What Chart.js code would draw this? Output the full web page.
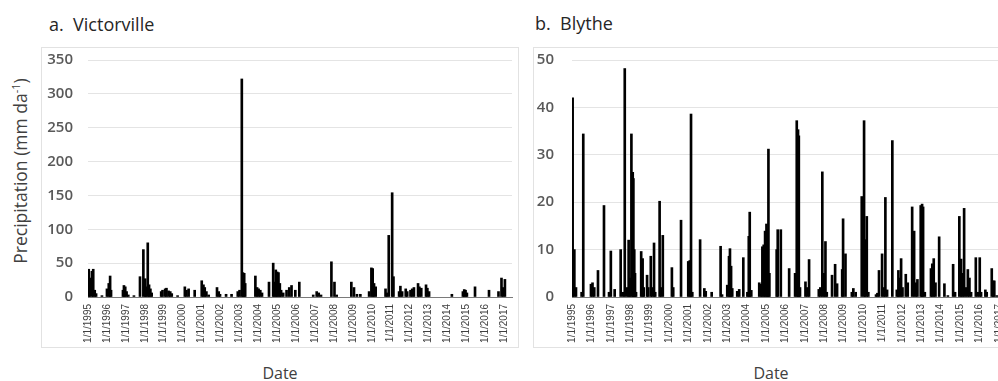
<!DOCTYPE html>
<html>
<head>
<meta charset="utf-8">
<script src="https://cdn.jsdelivr.net/npm/chart.js@4.4.1/dist/chart.umd.min.js"></script>
<style>
  html, body { margin: 0; padding: 0; background: #ffffff; }
  body { width: 998px; height: 381px; overflow: hidden; position: relative; font-family: "Open Sans", "Liberation Sans", sans-serif; }
  .abs { position: absolute; white-space: nowrap; }
  .panel-title { font-size: 18px; color: #262626; line-height: 20px; }
  .box { position: absolute; box-sizing: border-box; border: 1px solid #e2e2e2; }
  .date { font-size: 16px; color: #404040; line-height: 16px; transform: translateX(-50%); }
  .ytitle { font-size: 17.5px; color: #404040; line-height: 18px; transform: translate(-50%, -50%) rotate(-90deg); }
  .ytitle sup { font-size: 11px; line-height: 0; vertical-align: 7px; }
  canvas { position: absolute; }
</style>
</head>
<body>
<div class="abs panel-title" style="left:49px; top:14px;">a.&nbsp; Victorville</div>
<div class="abs panel-title" style="left:535px; top:13px;">b.&nbsp; Blythe</div>
<div class="abs ytitle" style="left:20px; top:171px;">Precipitation (mm da<sup>-1</sup>)</div>
<div class="box" style="left:41px; top:47px; width:478px; height:301px;"></div>
<div class="box" style="left:533px; top:47px; width:480px; height:301px;"></div>
<canvas id="chartA" width="478" height="301" style="left:41px; top:47px;"></canvas>
<canvas id="chartB" width="480" height="301" style="left:533px; top:47px;"></canvas>
<div class="abs date" style="left:280px; top:365px;">Date</div>
<div class="abs date" style="left:771px; top:365px;">Date</div>
<script>
// ---------------- DATA ----------------
const yearTickLabels = ['1/1/1995','1/1/1996','1/1/1997','1/1/1998','1/1/1999','1/1/2000','1/1/2001','1/1/2002',
  '1/1/2003','1/1/2004','1/1/2005','1/1/2006','1/1/2007','1/1/2008','1/1/2009','1/1/2010','1/1/2011','1/1/2012',
  '1/1/2013','1/1/2014','1/1/2015','1/1/2016','1/1/2017'];
const dateRange = ['1995-01-01', '2017-06-01'];

const victorvilleDates = [
  '1995-01-15','1995-02-03','1995-03-17','1995-04-12','1995-05-11','1995-06-06','1995-09-27',
  '1996-01-02','1996-02-06','1996-03-03','1996-03-21','1996-11-06','1996-11-25','1996-12-20',
  '1997-01-15','1997-02-17','1997-06-06','1997-10-01','1997-12-05',
  '1998-01-08','1998-01-26','1998-02-28','1998-03-25','1998-04-20','1998-05-15','1998-11-14','1998-12-10',
  '1999-01-30','1999-02-24','1999-04-05','1999-05-08','1999-06-06','1999-09-27',
  '2000-02-14','2000-03-17','2000-04-27','2000-08-22',
  '2001-01-05','2001-02-07','2001-03-04','2001-04-05','2001-05-19','2001-10-27','2001-11-29','2001-12-24',
  '2002-04-20','2002-08-04','2002-12-02',
  '2003-01-05','2003-02-18','2003-03-11','2003-04-05','2003-04-24','2003-11-07','2003-12-10',
  '2004-01-08','2004-02-10','2004-03-14','2004-07-27','2004-10-16','2004-11-10','2004-12-05',
  '2005-01-01','2005-01-26','2005-02-21','2005-03-18','2005-04-27','2005-07-01','2005-08-22','2005-10-05','2005-12-17',
  '2006-03-04','2006-11-28',
  '2007-02-03','2007-03-14','2007-04-27','2007-11-14',
  '2008-01-12','2008-02-24','2008-12-03',
  '2009-01-23','2009-03-21','2009-05-26','2009-11-11','2009-12-25',
  '2010-01-19','2010-02-14','2010-03-18','2010-09-24','2010-10-23','2010-11-25',
  '2011-01-30','2011-02-24','2011-06-13','2011-07-08','2011-08-11','2011-10-19','2011-11-17',
  '2012-01-19','2012-02-21','2012-03-25','2012-06-13','2012-07-08','2012-08-14','2012-11-14','2012-12-10',
  '2013-01-12','2014-03-28','2014-10-27','2014-11-22','2014-12-17',
  '2015-01-12','2015-06-18','2016-03-14','2016-09-13','2016-11-10','2016-12-13','2017-01-15'
];
const victorvilleValues = [
  41,28,38,41,10,5,2,
  12,20,31,10,10,17,15,
  8,3,2,30,70,
  27,15,80,18,12,6,8,10,
  12,13,9,8,5,2,
  15,10,12,10,
  24,18,14,8,3,14,8,4,
  4,4,8,
  10,322,36,35,20,31,14,
  12,10,6,22,50,22,40,
  37,36,20,10,6,10,14,17,10,
  22,3,
  8,6,3,52,
  22,3,22,
  14,4,4,8,43,
  42,20,15,12,6,91,
  154,30,8,16,8,12,8,
  10,12,14,20,15,13,18,13,
  8,4,8,11,10,
  6,15,10,8,28,14,26
];

const blytheDates = [
  '1995-01-03','1995-01-13','1995-02-14','1995-03-17','1995-07-01','1995-08-01','1995-12-24',
  '1996-01-22','1996-02-24','1996-05-04','1996-08-25','1996-11-28',
  '1997-01-01','1997-03-14','1997-07-05','1997-08-22','1997-09-20','1997-11-03','1997-12-02','1997-12-20',
  '1998-01-23','1998-02-17','1998-03-01','1998-03-18','1998-04-01','1998-04-20','1998-07-26','1998-08-22',
  '1998-09-12','1998-11-14','1998-12-06',
  '1999-01-23','1999-02-21','1999-03-25','1999-04-16','1999-07-08','1999-08-04','1999-09-06',
  '2000-02-24','2000-03-20','2000-08-14','2000-12-28',
  '2001-01-26','2001-02-18','2001-03-14','2001-08-08','2001-10-27','2001-11-22',
  '2002-03-14','2002-08-29','2002-09-25',
  '2003-01-01','2003-02-03','2003-02-21','2003-03-14','2003-04-05','2003-07-08','2003-08-14','2003-10-30',
  '2004-01-15','2004-02-10','2004-02-28','2004-03-28','2004-08-25','2004-09-27','2004-10-23','2004-11-17','2004-12-13',
  '2005-01-08','2005-01-26','2005-02-14','2005-03-04','2005-07-19','2005-08-08','2005-10-05',
  '2006-03-11','2006-07-01','2006-08-01','2006-08-25','2006-09-09','2006-10-01',
  '2007-01-12','2007-02-17','2007-03-21','2007-09-20','2007-10-19','2007-11-25','2007-12-24',
  '2008-01-23','2008-02-17','2008-05-26','2008-07-23','2008-08-29','2008-12-03','2008-12-20',
  '2009-02-03','2009-06-03','2009-07-01','2009-08-14','2009-12-06',
  '2010-01-19','2010-02-06','2010-03-11','2010-04-09','2010-09-01','2010-09-27','2010-10-27','2010-12-24',
  '2011-01-26','2011-02-24','2011-03-28','2011-07-05','2011-09-27','2011-10-27','2011-11-14','2011-12-17',
  '2012-01-12','2012-03-14','2012-04-20','2012-07-12','2012-08-18','2012-09-20','2012-10-19','2012-12-20',
  '2013-01-15','2013-02-03','2013-03-07','2013-07-01','2013-07-26','2013-08-22','2013-09-24','2013-12-02',
  '2014-03-11','2014-05-15','2014-08-22','2014-09-27','2014-12-17',
  '2015-01-19','2015-02-14','2015-03-17','2015-04-20','2015-05-26','2015-06-25','2015-07-26','2015-10-23','2015-11-28',
  '2016-01-05','2016-01-30','2016-04-20','2016-05-15','2016-08-18','2016-09-16','2016-10-05','2016-11-20',
  '2017-01-20'
];
const blytheValues = [
  10,42,10,2,1,34.4,2.7,
  3,2,5.6,19.3,1,
  9.7,1.6,10,1,48.2,2,12,4,
  34.4,26.3,25,10,5,1,9.6,8.1,
  2,4.6,2,
  8.6,2,11.4,1,20.2,2,13,
  6.2,2,16.2,7.5,
  7.7,38.6,1,12.1,1.8,1.2,
  1,10.7,0.5,
  2.5,8.6,10.2,6.5,1.8,1.2,1.6,8.3,
  1,12.8,17.9,1.4,3,2.7,10.6,11,13.9,
  15.4,14.2,31.2,5,10,14.2,14.2,
  6,5,37.2,35.3,34,2,
  3.2,2,7.9,1.6,2,26.4,5,
  11.7,1,4.6,6.9,2.8,5.8,16.5,
  9.1,1,1.8,1,21.2,
  37.2,12.1,17,1,0.5,0.8,5.6,9.1,
  2,21,1.5,33,1.5,5.6,4,8.1,
  2,4.8,3,19,13.9,3,3.7,19.3,
  19.6,19,1,6,7,8.1,3,12.7,
  2.8,0.3,6.9,1,17,
  8,5,18.7,2,5.8,4,1,8.3,1,
  8.3,1,1.5,1,6,3.4,3.4,0.3,
  30
];

// ---------------- HELPERS ----------------
function isoToMs(s) { const p = s.split('-').map(Number); return Date.UTC(p[0], p[1] - 1, p[2]); }
function mdyToMs(s) { const p = s.split('/').map(Number); return Date.UTC(p[2], p[0] - 1, p[1]); }
function toPoints(dates, values) { return dates.map((d, i) => ({ x: isoToMs(d), y: values[i] })); }

const tickFontY = { family: '"Open Sans", "Liberation Sans", sans-serif', size: 15, weight: '600' };
const tickFontX = { family: '"Liberation Sans", Arial, sans-serif', size: 10 };

function makeChart(canvasId, dates, values, yMax, yStep, yAxisWidth, yPad, rightPad) {
  return new Chart(document.getElementById(canvasId), {
    type: 'bar',
    data: {
      datasets: [{
        data: toPoints(dates, values),
        backgroundColor: '#000000',
        borderWidth: 0,
        barThickness: 2,
        grouped: false
      }]
    },
    options: {
      responsive: false,
      animation: false,
      devicePixelRatio: 1,
      layout: { padding: { top: 13, right: rightPad, bottom: 0, left: 0 } },
      plugins: { legend: { display: false }, tooltip: { enabled: false } },
      scales: {
        x: {
          type: 'linear',
          offset: false,
          min: isoToMs(dateRange[0]),
          max: isoToMs(dateRange[1]),
          grid: { display: false, drawTicks: false },
          border: { display: true, color: '#7a7a7a', width: 1 },
          afterBuildTicks: (scale) => { scale.ticks = yearTickLabels.map(l => ({ value: mdyToMs(l) })); },
          afterFit: (scale) => { scale.height = 51; scale.paddingLeft = 0; scale.paddingRight = 0; },
          ticks: {
            autoSkip: false,
            minRotation: 90,
            maxRotation: 90,
            padding: 7,
            color: '#404040',
            font: tickFontX,
            callback: (v, i) => yearTickLabels[i]
          }
        },
        y: {
          min: 0,
          max: yMax,
          grid: { color: '#e4e4e4', lineWidth: 1, drawTicks: false },
          border: { display: false },
          afterFit: (scale) => { scale.width = yAxisWidth; scale.paddingTop = 0; scale.paddingBottom = 0; },
          ticks: { stepSize: yStep, padding: yPad, color: '#595959', font: tickFontY }
        }
      }
    }
  });
}

makeChart('chartA', victorvilleDates, victorvilleValues, 350, 50, 47, 15, 7);
makeChart('chartB', blytheDates, blytheValues, 50, 10, 39, 18, 6);
</script>
</body>
</html>
